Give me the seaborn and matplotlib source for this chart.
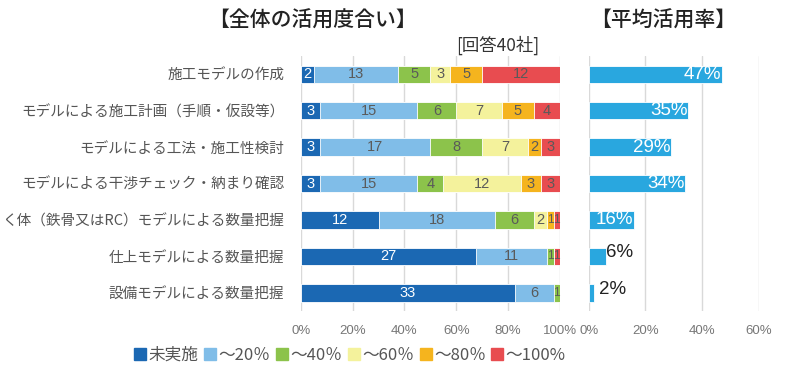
import matplotlib
matplotlib.use("Agg")
import matplotlib.pyplot as plt
import seaborn as sns
import numpy as np
import pandas as pd
from matplotlib.lines import Line2D

categories = ["施工モデルの作成",
              "モデルによる施工計画（手順・仮設等）",
              "モデルによる工法・施工性検討",
              "モデルによる干渉チェック・納まり確認",
              "く体（鉄骨又はRC）モデルによる数量把握",
              "仕上モデルによる数量把握",
              "設備モデルによる数量把握"]
series_names = ["未実施", "～20％", "～40％", "～60％", "～80％", "～100%"]
none_ = [2, 3, 3, 3, 12, 27, 33]
upto20 = [13, 15, 17, 15, 18, 11, 6]
upto40 = [5, 6, 8, 4, 6, 1, 1]
upto60 = [3, 7, 7, 12, 2, 0, 0]
upto80 = [5, 5, 2, 3, 1, 0, 0]
upto100 = [12, 4, 3, 3, 1, 1, 0]
avg_rate = [47, 35, 29, 34, 16, 6, 2]
total = 40

colors = ["#1b68b3", "#80bde8", "#8cc34b", "#f4f29c", "#f5b41e", "#e84c50"]
avg_color = "#29a7df"

sns.set_theme(style="white")
plt.rcParams['font.family'] = ['Noto Sans CJK JP', 'DejaVu Sans']

fig = plt.figure(figsize=(8, 3.7), dpi=100)
ax1 = fig.add_axes([0.376, 0.159, 0.324, 0.690])
ax2 = fig.add_axes([0.736, 0.159, 0.2125, 0.690])

series = [none_, upto20, upto40, upto60, upto80, upto100]
vals = np.array(series, dtype=float)
cum = np.cumsum(vals, axis=0) / total

# draw cumulative bars from the widest to the narrowest so they stack
for i in range(len(series) - 1, -1, -1):
    df = pd.DataFrame({"cat": categories, "w": cum[i]})
    sns.barplot(data=df, x="w", y="cat", orient="h", color=colors[i],
                saturation=1, width=0.47, ax=ax1, edgecolor="white",
                linewidth=0.6)

for i in range(len(series)):
    for j in range(len(categories)):
        v = vals[i, j]
        if v <= 0:
            continue
        start = (cum[i, j] - v / total)
        cx = start + v / total / 2
        fs = 10.5 if v >= 2 else 8.5
        ax1.text(cx, j, f"{int(v)}", ha="center", va="center",
                 fontsize=fs, color="white" if i == 0 else "#5a5a5a",
                 family=['Liberation Sans', 'DejaVu Sans'])

ax1.set_xlim(0, 1)
ax1.set_ylim(6.5, -0.5)
ax1.set_xticks(np.linspace(0, 1, 6))
ax1.set_xticklabels([f"{int(t*100)}%" for t in np.linspace(0, 1, 6)],
                    color="#777777", fontsize=9.5,
                    family=['Liberation Sans', 'DejaVu Sans'])
ax1.tick_params(axis="x", length=0, pad=10)
ax1.tick_params(axis="y", length=0, pad=12, labelsize=10.5, labelcolor="#555555")
ax1.set_xlabel("")
ax1.set_ylabel("")
ax1.grid(axis="x", color="#d9d9d9", linewidth=1)
ax1.set_axisbelow(True)
for s in ax1.spines.values():
    s.set_visible(False)

# right panel
df2 = pd.DataFrame({"cat": categories, "rate": np.array(avg_rate) / 100})
sns.barplot(data=df2, x="rate", y="cat", orient="h", color=avg_color,
            saturation=1, width=0.47, ax=ax2, edgecolor="white", linewidth=0.6)
for j, r in enumerate(avg_rate):
    if r >= 10:
        ax2.text(r / 100 - 0.002, j, f"{r}%", ha="right", va="center",
                 fontsize=13.5, color="white",
                 family=['Liberation Sans', 'DejaVu Sans'])
    else:
        ax2.text(r / 100 + (0.002 if r > 3 else 0.015), j - 0.1, f"{r}%",
                 ha="left", va="center", fontsize=13.5, color="#222222",
                 family=['Liberation Sans', 'DejaVu Sans'])
ax2.set_xlim(0, 0.6)
ax2.set_ylim(6.5, -0.5)
ax2.set_xticks([0, 0.2, 0.4, 0.6])
ax2.set_xticklabels(["0%", "20%", "40%", "60%"], color="#777777", fontsize=9.5,
                    family=['Liberation Sans', 'DejaVu Sans'])
ax2.tick_params(axis="x", length=0, pad=10)
ax2.set_yticks([])
ax2.set_xlabel("")
ax2.set_ylabel("")
ax2.grid(axis="x", color="#d9d9d9", linewidth=1)
ax2.set_axisbelow(True)
for s in ax2.spines.values():
    s.set_visible(False)

fig.text(0.39, 0.945, "【全体の活用度合い】", ha="center", va="center",
         fontsize=15, color="#222222", fontweight="medium")
fig.text(0.622, 0.878, "[回答40社]", ha="center", va="center",
         fontsize=12.5, color="#333333")
fig.text(0.829, 0.945, "【平均活用率】", ha="center", va="center",
         fontsize=15, color="#222222", fontweight="medium")

handles = [Line2D([0], [0], marker="s", linestyle="none", markersize=8,
                  markerfacecolor=c, markeredgecolor=c) for c in colors]
fig.legend(handles, series_names, loc="center left", bbox_to_anchor=(0.148, 0.04),
           ncol=6, frameon=False, fontsize=12, handletextpad=0.1,
           columnspacing=0.3, handlelength=0.8, labelcolor="#555555")

fig.savefig("out.png", dpi=100)
